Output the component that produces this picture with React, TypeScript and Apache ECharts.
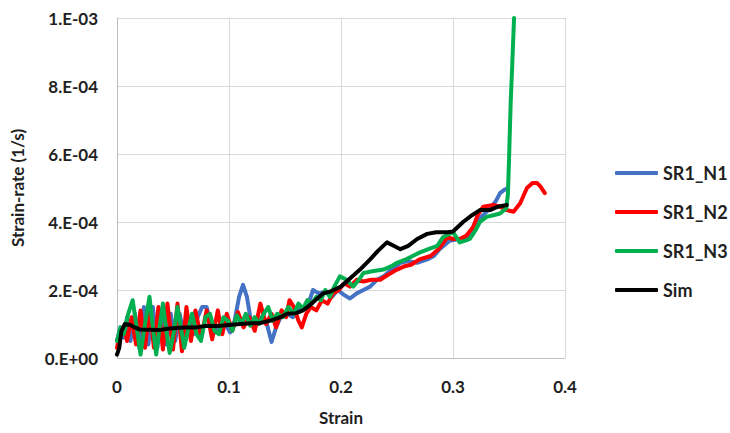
import React, { useEffect, useRef } from "react";
import * as echarts from "echarts";

// x = strain, y = strain-rate in units of 1e-4 1/s
const xTickLabels = ["0", "0.1", "0.2", "0.3", "0.4"];
const yTickLabels = ["0.E+00", "2.E-04", "4.E-04", "6.E-04", "8.E-04", "1.E-03"];
const seriesNames = ["SR1_N1", "SR1_N2", "SR1_N3", "Sim"];
const seriesColors = ["#4472C4", "#FF0000", "#00B050", "#000000"];

const sr1N1: number[][] = [
  [0, 0.5], [0.003, 0.9], [0.006, 0.6], [0.009, 1.2], [0.012, 0.5], [0.016, 1.3], [0.02, 0.3], [0.024, 1.5],
  [0.028, 0.4], [0.032, 1.5], [0.036, 0.3], [0.04, 1.4], [0.044, 0.4], [0.048, 1.3], [0.052, 0.5], [0.056, 1.3],
  [0.06, 0.6], [0.064, 1.2], [0.068, 0.7], [0.072, 1.2], [0.076, 1.5], [0.08, 1.5], [0.086, 0.7], [0.09, 0.9],
  [0.095, 1.1], [0.101, 0.75], [0.105, 1.1], [0.109, 1.8], [0.1125, 2.15], [0.116, 1.8], [0.119, 1.2], [0.122, 0.9],
  [0.126, 1.0], [0.129, 1.2], [0.133, 1.1], [0.138, 0.47], [0.142, 0.9], [0.146, 1.2], [0.152, 1.3], [0.157, 1.2],
  [0.162, 1.4], [0.167, 1.5], [0.172, 1.7], [0.175, 2.0], [0.18, 1.9], [0.186, 1.95], [0.192, 1.8], [0.197, 2.0],
  [0.203, 1.85], [0.208, 1.75], [0.214, 1.9], [0.22, 2.0], [0.226, 2.1], [0.232, 2.3], [0.238, 2.4], [0.245, 2.6],
  [0.253, 2.8], [0.26, 2.85], [0.268, 2.8], [0.277, 2.9], [0.283, 3.0], [0.288, 3.2], [0.297, 3.45], [0.305, 3.5],
  [0.3125, 3.5], [0.321, 4.05], [0.327, 4.2], [0.333, 4.4], [0.338, 4.6], [0.342, 4.85], [0.346, 4.95], [0.349, 5.0],
];

const sr1N2: number[][] = [
  [0, 0.3], [0.003, 0.8], [0.006, 0.9], [0.009, 0.5], [0.013, 1.2], [0.017, 0.4], [0.021, 1.4], [0.025, 0.3],
  [0.029, 1.5], [0.033, 0.3], [0.037, 1.5], [0.041, 0.25], [0.045, 1.6], [0.05, 0.25], [0.054, 1.6], [0.058, 0.2],
  [0.062, 1.5], [0.066, 0.5], [0.07, 1.4], [0.075, 0.6], [0.08, 1.4], [0.085, 0.55], [0.09, 1.4], [0.094, 0.7],
  [0.098, 1.3], [0.103, 0.8], [0.108, 1.35], [0.113, 0.9], [0.118, 1.2], [0.123, 0.8], [0.128, 1.6], [0.133, 1.0],
  [0.138, 1.3], [0.142, 0.9], [0.147, 1.4], [0.151, 1.2], [0.154, 1.7], [0.158, 1.5], [0.162, 1.1], [0.165, 0.9],
  [0.169, 1.3], [0.173, 1.5], [0.178, 1.4], [0.183, 1.7], [0.188, 1.6], [0.193, 1.9], [0.198, 2.0], [0.203, 2.2],
  [0.208, 2.1], [0.214, 2.3], [0.22, 2.25], [0.227, 2.3], [0.235, 2.3], [0.242, 2.45], [0.25, 2.6], [0.257, 2.7],
  [0.263, 2.75], [0.27, 2.9], [0.28, 3.0], [0.287, 3.2], [0.295, 3.55], [0.3, 3.5], [0.306, 3.5], [0.312, 3.6],
  [0.318, 3.85], [0.322, 4.2], [0.327, 4.45], [0.336, 4.5], [0.342, 4.45], [0.348, 4.35], [0.354, 4.3], [0.36, 4.55],
  [0.366, 5.0], [0.371, 5.15], [0.375, 5.15], [0.378, 5.05], [0.382, 4.85],
];

const sr1N3: number[][] = [
  [0, 0.5], [0.003, 0.9], [0.006, 0.7], [0.01, 1.3], [0.014, 1.7], [0.018, 0.8], [0.021, 0.1], [0.025, 1.0],
  [0.029, 1.8], [0.032, 0.9], [0.035, 0.1], [0.038, 0.9], [0.041, 1.6], [0.044, 0.8], [0.047, 0.15], [0.051, 0.8],
  [0.054, 1.5], [0.057, 0.9], [0.06, 0.3], [0.064, 0.9], [0.067, 1.3], [0.071, 0.7], [0.075, 0.5], [0.079, 1.2],
  [0.083, 1.3], [0.087, 0.8], [0.091, 0.7], [0.095, 1.2], [0.099, 1.1], [0.103, 0.8], [0.107, 1.25], [0.111, 1.0],
  [0.115, 1.3], [0.119, 0.95], [0.123, 1.2], [0.127, 1.0], [0.131, 1.3], [0.135, 1.5], [0.139, 1.1], [0.143, 1.3],
  [0.148, 1.2], [0.153, 1.5], [0.158, 1.3], [0.162, 1.6], [0.166, 1.45], [0.17, 1.7], [0.174, 1.6], [0.178, 1.8],
  [0.182, 1.7], [0.186, 2.0], [0.19, 1.8], [0.194, 2.1], [0.199, 2.4], [0.205, 2.3], [0.211, 2.1], [0.216, 2.3],
  [0.22, 2.5], [0.228, 2.55], [0.238, 2.6], [0.245, 2.7], [0.25, 2.8], [0.258, 2.9], [0.264, 3.0], [0.27, 3.1],
  [0.278, 3.2], [0.286, 3.3], [0.291, 3.55], [0.3, 3.7], [0.306, 3.4], [0.311, 3.45], [0.315, 3.5], [0.32, 3.75],
  [0.324, 4.0], [0.33, 4.15], [0.336, 4.2], [0.342, 4.25], [0.3475, 4.4], [0.349, 4.8], [0.3495, 5.3], [0.35, 5.8],
  [0.3505, 6.4], [0.3515, 7.5], [0.353, 8.7], [0.3545, 10],
];

const sim: number[][] = [
  [0, 0.1], [0.002, 0.3], [0.004, 0.8], [0.007, 1.0], [0.012, 0.97], [0.016, 0.9], [0.02, 0.84], [0.03, 0.83],
  [0.038, 0.82], [0.045, 0.86], [0.053, 0.88], [0.06, 0.9], [0.071, 0.9], [0.08, 0.95], [0.09, 0.94], [0.1, 0.97],
  [0.11, 1.0], [0.12, 1.02], [0.128, 1.03], [0.137, 1.1], [0.146, 1.2], [0.152, 1.3], [0.16, 1.32], [0.166, 1.4],
  [0.172, 1.55], [0.177, 1.7], [0.184, 1.9], [0.19, 1.95], [0.2, 2.1], [0.21, 2.4], [0.217, 2.6], [0.226, 2.9],
  [0.233, 3.15], [0.241, 3.4], [0.247, 3.3], [0.253, 3.2], [0.26, 3.3], [0.268, 3.5], [0.277, 3.65], [0.285, 3.7],
  [0.295, 3.7], [0.3, 3.72], [0.309, 4.0], [0.317, 4.2], [0.324, 4.35], [0.333, 4.35], [0.34, 4.45], [0.348, 4.5],
];

const seriesData = [sr1N1, sr1N2, sr1N3, sim];

const FONT = "Lato, 'Open Sans', sans-serif";
const TEXT_COLOR = "#1f1f1f";

export default function App() {
  const ref = useRef<HTMLDivElement>(null);
  useEffect(() => {
    if (!ref.current) return;
    const chart = echarts.init(ref.current, null, { renderer: "svg" });
    chart.setOption({
      animation: false,
      backgroundColor: "#ffffff",
      grid: { left: 117, right: 165, top: 18, bottom: 75 },
      legend: {
        orient: "vertical",
        left: 610,
        top: 158,
        itemWidth: 43,
        itemHeight: 4,
        itemGap: 19,
        icon: "roundRect",
        data: seriesNames,
        textStyle: { fontFamily: FONT, fontWeight: "bold", fontSize: 18, color: TEXT_COLOR, lineHeight: 20 },
      },
      xAxis: {
        type: "value",
        min: 0,
        max: 0.4,
        interval: 0.1,
        name: "Strain",
        nameLocation: "middle",
        nameGap: 51,
        nameTextStyle: { fontFamily: FONT, fontWeight: "bold", fontSize: 17, color: TEXT_COLOR },
        axisLine: { show: true, lineStyle: { color: "#BFBFBF", width: 1 } },
        axisTick: { show: false },
        splitLine: { show: true, lineStyle: { color: "#D9D9D9", width: 1 } },
        axisLabel: {
          margin: 20,
          fontFamily: FONT,
          fontWeight: "bold",
          fontSize: 17,
          color: TEXT_COLOR,
          formatter: (v: number) => xTickLabels[Math.round(v * 10)] ?? "",
        },
      },
      yAxis: {
        type: "value",
        min: 0,
        max: 10,
        interval: 2,
        name: "Strain-rate (1/s)",
        nameLocation: "middle",
        nameGap: 91,
        nameRotate: 90,
        nameTextStyle: { fontFamily: FONT, fontWeight: "bold", fontSize: 17, color: TEXT_COLOR },
        axisLine: { show: true, lineStyle: { color: "#BFBFBF", width: 1 } },
        axisTick: { show: false },
        splitLine: { show: true, lineStyle: { color: "#D9D9D9", width: 1 } },
        axisLabel: {
          margin: 19,
          fontFamily: FONT,
          fontWeight: "bold",
          fontSize: 17,
          color: TEXT_COLOR,
          formatter: (v: number) => yTickLabels[Math.round(v / 2)] ?? "",
        },
      },
      series: seriesNames.map((name, i) => ({
        name,
        type: "line",
        data: seriesData[i],
        showSymbol: false,
        symbol: "none",
        clip: true,
        color: seriesColors[i],
        lineStyle: { color: seriesColors[i], width: 4, cap: "round", join: "round" },
        z: 2 + i,
      })),
    });
    return () => chart.dispose();
  }, []);
  return (
    <div
      ref={ref}
      style={{ position: "fixed", left: 0, top: 0, width: 730, height: 433 }}
    />
  );
}
